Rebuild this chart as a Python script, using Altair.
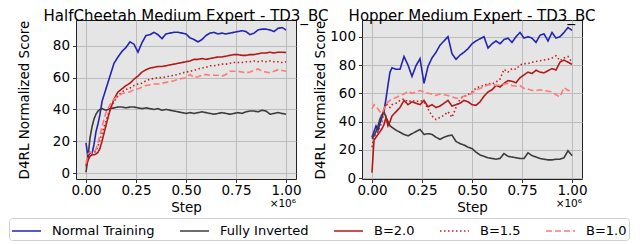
import altair as alt
import pandas as pd

steps = [0.00, 0.01, 0.02, 0.03, 0.04, 0.05, 0.06, 0.07, 0.08, 0.09, 0.10,
         0.12, 0.14, 0.16, 0.18, 0.20, 0.22, 0.24, 0.26, 0.28, 0.30,
         0.32, 0.34, 0.36, 0.38, 0.40, 0.42, 0.44, 0.46, 0.48, 0.50,
         0.52, 0.54, 0.56, 0.58, 0.60, 0.62, 0.64, 0.66, 0.68, 0.70,
         0.72, 0.74, 0.76, 0.78, 0.80, 0.82, 0.84, 0.86, 0.88, 0.90,
         0.92, 0.94, 0.96, 0.98, 1.00]

series_names = ["Normal Training", "Fully Inverted", "B=2.0", "B=1.5", "B=1.0"]
series_colors = ["#2424b4", "#3c3c3c", "#b41818", "#c81e1e", "#ff7878"]
series_dashes = [[1, 0], [1, 0], [1, 0], [1.5, 2.5], [6, 3]]

# HalfCheetah Medium Expert - TD3_BC
hc_normal = [19, 10, 13, 12, 18, 26, 31, 37, 45, 49, 53,
             61, 69, 73, 76.5, 79, 82.5, 81, 76, 82, 86.5,
             87, 88.5, 87, 84.5, 87.5, 88, 88.5, 88.5, 88, 87.5,
             85, 84, 82.5, 84, 86.5, 88, 88.5, 87.5, 88, 87.5,
             88, 88.5, 89, 89.5, 89, 87, 88, 90, 90.5, 90.5,
             90, 89, 91, 91.5, 90]
hc_inverted = [0.5, 10, 22, 29, 34, 37, 39, 40, 40.5, 40, 39.5,
               40.5, 41, 41.5, 41.5, 41, 41.5, 41.5, 41, 40.5, 41,
               40.5, 40, 40.5, 39.5, 40, 39.5, 39, 38.5, 38, 37.5,
               38, 37.5, 38, 38.5, 38, 37.5, 37, 37.5, 38, 37.5,
               37, 37.5, 38, 37.5, 38.5, 39, 39, 38.5, 39.5, 39,
               37, 37.5, 38, 37.5, 37]
hc_b20 = [4, 8, 10.5, 11.5, 11.5, 12, 13, 15.5, 20, 25, 30,
          39.5, 46.5, 51, 53, 55, 56.5, 59, 61, 63.5, 65,
          66, 66.5, 67, 67, 67.5, 68, 68.5, 69, 69.5, 70,
          70.5, 71.5, 71.5, 72, 71.5, 72, 72.5, 73, 73, 73.5,
          74, 74.5, 74.5, 74, 74, 74.5, 74.5, 75, 75.5, 75.5,
          76, 75.5, 76, 76, 75.8]
hc_b15 = [5, 9, 11, 12, 12.5, 14, 17, 21, 25, 29, 33,
          40, 45, 48.5, 51, 52.5, 53.5, 55, 56, 56.5, 58,
          59, 59.5, 60, 60, 60.5, 61, 61.5, 62, 63, 63.5,
          64, 64.5, 65.5, 66, 66.5, 67.5, 67.5, 68, 68.5, 68.5,
          69, 69.5, 69.5, 69.5, 70, 70, 70.5, 70, 70.5, 70,
          70.5, 70, 70, 69.5, 70]
hc_b10 = [6, 12, 13, 12.5, 13, 15, 19, 24, 29, 34, 38,
          43, 46.5, 48.5, 50, 50.5, 51, 52.5, 53, 54, 55,
          55.5, 56, 56, 56.5, 57, 57.5, 58, 59, 59.5, 60,
          62, 60, 60.5, 61.5, 62, 61.5, 61.5, 61.5, 61, 62,
          64, 64, 64, 63.5, 63, 63.5, 64.5, 65.5, 64, 63.5,
          63, 64, 65, 64.5, 64]

# Hopper Medium Expert - TD3_BC
hp_normal = [29, 33, 37, 34, 39, 43, 48, 56, 66, 75, 78,
             77, 77, 86, 80, 72, 79.5, 84.5, 67, 79, 85,
             89, 94, 97, 100, 88, 84, 87, 89, 91.5, 95,
             97, 98.5, 100, 92, 95, 97, 95, 98, 99, 96,
             100, 103, 99, 100, 99, 96, 101, 102, 97, 103,
             99, 100, 103, 106.5, 104.5]
hp_inverted = [28, 30, 33, 37, 42, 45, 47, 43, 40, 37, 36,
               34, 32.5, 31, 30, 31.5, 33, 34.5, 31, 31.5, 31,
               29, 27.5, 29, 30, 30.5, 26, 24.5, 23.5, 22, 21,
               18.5, 16.5, 15.5, 14.5, 14, 13.5, 14, 17.5, 15.5, 15,
               14.5, 14, 14, 18, 16, 15, 14, 13.5, 13, 13,
               13.5, 13.5, 14.5, 19.5, 16]
hp_b20 = [4, 27, 29, 31, 33, 35, 38, 43, 37, 40, 44,
          47, 50, 55, 52, 54, 53, 52, 55, 50.5, 52,
          50, 51, 53, 55, 51, 52, 53, 55, 54, 52,
          51.5, 54, 58, 61, 62.5, 65.5, 64.5, 67, 69, 68.5,
          67.5, 71, 73, 75, 74, 76.3, 75, 74.5, 76, 77.5,
          76.5, 82, 83.5, 82, 80.5]
hp_b15 = [22, 30, 31, 33, 36, 40, 47, 53, 51, 50, 52,
          53, 55, 56, 54, 55, 54, 55, 54, 49, 44,
          41.5, 43, 44.5, 47, 43, 50, 56, 58, 59, 61,
          63.5, 65, 65.5, 67, 66.5, 68, 70, 77, 75, 77.5,
          77, 80, 81, 81, 82, 82.5, 83, 83.5, 84, 85,
          86.5, 83, 85, 86, 82]
hp_b10 = [49, 52, 51, 49, 47, 46, 49, 52, 54, 55, 56,
          57, 58.5, 59.5, 61.5, 60, 61, 62, 61, 60, 59.5,
          58.5, 59.5, 59, 58.5, 57.5, 56.5, 57, 58, 58.5, 60,
          62.5, 63.5, 64.5, 66, 66.5, 65.5, 66, 66.5, 67, 65.5,
          65, 65.5, 63.5, 63, 62, 62, 62.5, 62, 61.5, 61,
          59, 57.5, 64, 62, 62]

x_ticks = [0.0, 0.25, 0.5, 0.75, 1.0]
hc_y_ticks = [0, 20, 40, 60, 80]
hp_y_ticks = [0, 20, 40, 60, 80, 100]

FONT = "DejaVu Sans"
W, H = 220, 159


def long_df(cols):
    rows = []
    for name, vals in zip(series_names, cols):
        for s, v in zip(steps, vals):
            rows.append({"step": s, "score": v, "series": name})
    return pd.DataFrame(rows)


# line-shaped legend symbol that is longer than its layout box
legend = alt.Legend(
    title=None, orient="none", legendX=-67, legendY=198, direction="horizontal",
    columns=5, columnPadding=21, symbolType="M-1,0H1.9", symbolSize=400,
    symbolStrokeWidth=1.6, labelFontSize=13, labelFont=FONT, labelColor="black",
    labelOffset=19, padding=2, strokeColor="#d0d0d0", fillColor="white",
    cornerRadius=3,
)


def panel(cols, title, ydomain, yticks, ytitle_pad):
    df = long_df(cols)
    lines = alt.Chart(df).mark_line(strokeWidth=1.6, clip=True).encode(
        x=alt.X("step:Q",
                scale=alt.Scale(domain=[-0.05, 1.05], nice=False, zero=False),
                axis=alt.Axis(values=x_ticks, format=".2f", title="Step")),
        y=alt.Y("score:Q",
                scale=alt.Scale(domain=ydomain, nice=False, zero=False),
                axis=alt.Axis(values=yticks, title="D4RL Normalized Score",
                              titlePadding=ytitle_pad)),
        color=alt.Color("series:N",
                        scale=alt.Scale(domain=series_names, range=series_colors),
                        legend=legend),
        strokeDash=alt.StrokeDash("series:N",
                                  scale=alt.Scale(domain=series_names, range=series_dashes),
                                  legend=legend),
    )
    exp = alt.Chart(pd.DataFrame({"t": ["×10⁶"]})).mark_text(
        align="right", baseline="middle", fontSize=10.5, font=FONT, color="black"
    ).encode(text="t:N", x=alt.value(W), y=alt.value(H + 25))
    return alt.layer(lines, exp).properties(
        width=W, height=H,
        title=alt.Title(title, fontSize=15, font=FONT, fontWeight="normal",
                        color="black", offset=-4, anchor="middle"),
    )


left = panel([hc_normal, hc_inverted, hc_b20, hc_b15, hc_b10],
             "HalfCheetah Medium Expert - TD3_BC", [-3.75, 96.25], hc_y_ticks, 21)
right = panel([hp_normal, hp_inverted, hp_b20, hp_b15, hp_b10],
              "Hopper Medium Expert - TD3_BC", [-0.5, 111.8], hp_y_ticks, 2)

chart = alt.hconcat(left, right, spacing=66, bounds="flush").properties(
    padding=0
).configure_view(
    fill="#e5e5e5", stroke="#222222", strokeWidth=1
).configure_axis(
    domain=False, grid=True, gridColor="#bcbcbc", gridWidth=1,
    tickColor="black", tickSize=3.5, tickWidth=0.8,
    labelFont=FONT, labelFontSize=13.5, labelColor="black", labelPadding=1,
    titleFont=FONT, titleFontSize=13.5, titleFontWeight="normal", titleColor="black",
).configure_axisX(
    titlePadding=3
).configure_axisY(
    labelPadding=3
)

chart.save("out.html", embed_options={"renderer": "svg", "actions": False})
